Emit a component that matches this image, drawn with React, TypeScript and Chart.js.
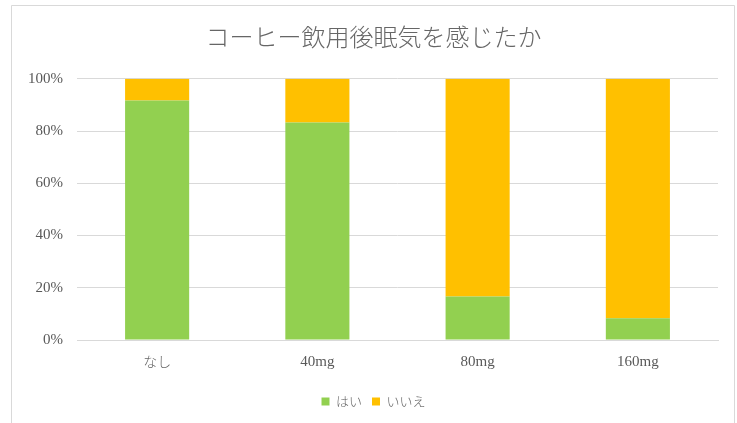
import React, { useEffect, useRef } from "react";
import { Chart, registerables } from "chart.js";

Chart.register(...registerables);

const categories = ["なし", "40mg", "80mg", "160mg"];
const yesValues = [91.7, 83.3, 16.7, 8.3];
const noValues = [8.3, 16.7, 83.3, 91.7];
const yTickStep = 20;
const yMax = 100;

const FONT_LATIN = "'Liberation Serif', 'Noto Sans CJK JP', serif";
const FONT_CJK = "'Noto Sans CJK JP', 'Liberation Serif', serif";

const frame = {
  id: "frame",
  beforeDraw(chart: any) {
    const ctx = chart.ctx;
    ctx.save();
    ctx.fillStyle = "#ffffff";
    ctx.fillRect(0, 0, chart.width, chart.height);
    ctx.strokeStyle = "#d9d9d9";
    ctx.lineWidth = 1;
    ctx.beginPath();
    ctx.moveTo(11.5, chart.height + 2);
    ctx.lineTo(11.5, 5.5);
    ctx.lineTo(734.5, 5.5);
    ctx.lineTo(734.5, chart.height + 2);
    ctx.stroke();
    ctx.restore();
  },
};

const isCJK = (s: string) => /[\u3040-\u30ff\u4e00-\u9fff]/.test(s);

export default function App() {
  const ref = useRef<HTMLCanvasElement | null>(null);
  useEffect(() => {
    if (!ref.current) return;
    const chart = new Chart(ref.current, {
      type: "bar",
      data: {
        labels: categories,
        datasets: [
          {
            label: "はい",
            data: yesValues,
            backgroundColor: "#92D050",
            categoryPercentage: 1,
            barPercentage: 0.4,
          },
          {
            label: "いいえ",
            data: noValues,
            backgroundColor: "#FFC000",
            categoryPercentage: 1,
            barPercentage: 0.4,
          },
        ],
      },
      options: {
        animation: false,
        responsive: true,
        maintainAspectRatio: false,
        layout: { padding: { left: 29, right: 19, top: 13, bottom: 5 } },
        plugins: {
          title: {
            display: true,
            text: "コーヒー飲用後眠気を感じたか",
            color: "#666666",
            font: { family: FONT_CJK, size: 24, weight: "300" },
            padding: { top: 9, bottom: 28 },
          },
          legend: {
            position: "bottom",
            labels: {
              color: "#666666",
              font: { family: FONT_CJK, size: 13, weight: "300" },
              boxWidth: 8,
              boxHeight: 8,
              padding: 10,
            },
          },
          tooltip: { enabled: false },
        },
        scales: {
          x: {
            stacked: true,
            grid: { display: false, drawTicks: false },
            border: { display: true, color: "#d9d9d9", width: 1 },
            ticks: {
              color: (ctx: any) =>
                isCJK(String(categories[ctx.index] ?? "")) ? "#666666" : "#595959",
              font: (ctx: any) =>
                isCJK(String(categories[ctx.index] ?? ""))
                  ? { family: FONT_CJK, size: 14, weight: "300" }
                  : { family: FONT_LATIN, size: 15 },
              padding: 13,
            },
            afterFit: (s: any) => {
              s.height += 1;
            },
          },
          y: {
            stacked: true,
            min: 0,
            max: yMax,
            grid: { color: "#d9d9d9", drawTicks: false },
            border: { display: false },
            ticks: {
              stepSize: yTickStep,
              color: "#595959",
              font: { family: FONT_LATIN, size: 15 },
              padding: 14,
              callback: (v: any) => `${v}%`,
            },
            afterFit: (s: any) => {
              s.width = 48;
            },
          },
        },
      },
      plugins: [frame],
    });
    return () => chart.destroy();
  }, []);
  return (
    <div style={{ position: "absolute", left: 0, top: 0, width: 737, height: 423 }}>
      <canvas ref={ref} />
    </div>
  );
}
